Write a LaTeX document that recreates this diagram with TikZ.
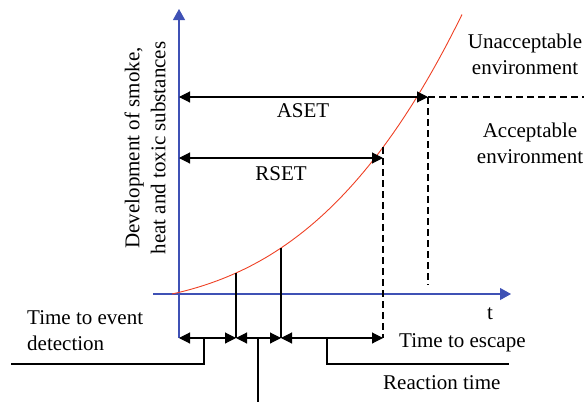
\documentclass[tikz,border=0pt]{standalone}
\usepackage{fontspec}
\setmainfont{Liberation Serif}
\usetikzlibrary{arrows.meta}

\definecolor{axisblue}{RGB}{63,81,181}
\definecolor{curvered}{RGB}{238,64,36}

\begin{document}
\begin{tikzpicture}[
    x=1pt, y=-1pt,
    every node/.style={font=\fontsize{21}{26}\selectfont, inner sep=0pt},
    axis/.style={draw=axisblue, line width=1.1pt, -{Triangle[length=11pt,width=12pt]}},
    span/.style={line width=1.1pt, {Triangle[length=11pt,width=11pt]}-{Triangle[length=11pt,width=11pt]}},
    lead/.style={line width=1.1pt},
    guide/.style={line width=1.1pt, dash pattern=on 7pt off 4pt},
    txt/.style={align=center}
  ]
  \useasboundingbox (0,0) rectangle (584,402);

  % ---- axes ----
  \coordinate (ytop) at (179,9);
  \coordinate (ybot) at (179,338);
  \coordinate (xl)   at (153,294);
  \coordinate (xr)   at (511,294);
  \draw[axis] (ybot) -- (ytop);
  \draw[axis] (xl) -- (xr);

  % ---- curve and points on it ----
  \draw[curvered, line width=0.9pt] plot[domain=0:2.9, samples=60, variable=\v]
    ({172+100*\v}, {294-(22.2*\v+14.025*\v*\v+3.985*\v*\v*\v)});
  \coordinate (det)  at (236,273);
  \coordinate (rea)  at (281,248);
  \coordinate (rset) at (383,147);
  \coordinate (aset) at (428,97);

  % ---- limits ----
  \draw[span] (ytop |- aset) -- (aset);
  \draw[span] (179,158) -- (rset |- 0,158);
  \draw[guide] (aset) -- (584,97);
  \draw[guide] (aset) -- (aset |- 0,285);
  \draw[guide] (rset) -- (rset |- ybot);
  \draw[lead] (det) -- (det |- ybot);
  \draw[lead] (rea) -- (rea |- ybot);

  % ---- time line ----
  \draw[span] (ybot) -- (det |- ybot);
  \draw[span] (det |- ybot) -- (rea |- ybot);
  \draw[span] (rea |- ybot) -- (rset |- ybot);
  \draw[lead] (204,338) -- (204,364) -- (11,364);
  \draw[lead] (258,338) -- (258,402);
  \draw[lead] (327,338) -- (327,364) -- (509,364);

  % ---- labels ----
  \node (ylab) [txt, rotate=90] at (145,148)
    {Development of smoke,\\heat and toxic substances};
  \node (tlab) [anchor=base] at (490,319) {t};
  \node (asetlab) [anchor=base] at (303,117) {ASET};
  \node (rsetlab) [anchor=base] at (281,180) {RSET};
  \node (unacc) [txt] at (525,54) {Unacceptable\\environment};
  \node (acc) [txt] at (530,143) {Acceptable\\environment};
  \node (detlab) [align=left, anchor=west] at (27,331) {Time to event\\detection};
  \node (esclab) [anchor=base west] at (399,347) {Time to escape};
  \node (realab) [anchor=base west] at (383,389) {Reaction time};
\end{tikzpicture}
\end{document}
